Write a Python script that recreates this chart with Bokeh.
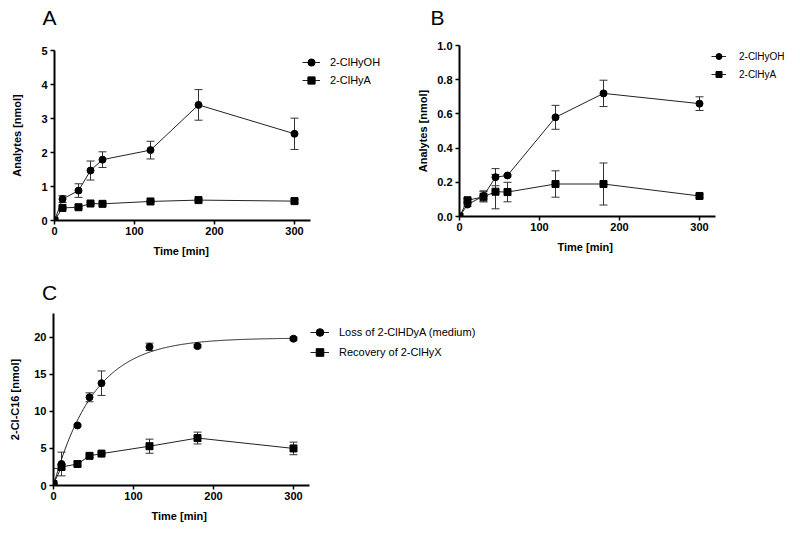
import numpy as np
from bokeh.plotting import figure
from bokeh.models import (ColumnDataSource, Whisker, TeeHead, Legend, LegendItem, Title, Label,
                          FixedTicker, NumeralTickFormatter)
from bokeh.layouts import column, row
from bokeh.embed import file_html
from bokeh.resources import INLINE

FONT = "Liberation Sans"

# ---------------- data ----------------
time_min = [0, 10, 30, 45, 60, 120, 180, 300]

# Panel A
a_hyoh = [0.0, 0.63, 0.88, 1.47, 1.79, 2.07, 3.40, 2.55]
a_hyoh_err = [0.0, 0.10, 0.20, 0.28, 0.23, 0.26, 0.45, 0.46]
a_hya = [0.0, 0.37, 0.39, 0.50, 0.49, 0.56, 0.60, 0.57]
a_hya_err = [0.0, 0.03, 0.03, 0.03, 0.03, 0.03, 0.03, 0.06]

# Panel B
b_hyoh = [0.0, 0.07, 0.12, 0.23, 0.24, 0.58, 0.72, 0.66]
b_hyoh_err = [0.0, 0.01, 0.03, 0.05, 0.005, 0.07, 0.077, 0.04]
b_hya = [0.0, 0.095, 0.115, 0.145, 0.143, 0.19, 0.19, 0.12]
b_hya_err = [0.0, 0.01, 0.03, 0.10, 0.057, 0.077, 0.123, 0.01]

# Panel C
c_loss = [0.3, 2.9, 8.1, 11.9, 13.8, 18.7, 18.8, 19.8]
c_loss_err = [2.0, 1.6, 0.15, 0.6, 1.65, 0.5, 0.2, 0.2]
c_rec = [0.2, 2.5, 2.9, 4.0, 4.3, 5.3, 6.4, 5.0]
c_rec_err = [0.1, 0.3, 0.3, 0.2, 0.15, 0.95, 0.8, 0.85]
# one-phase association fit of the loss curve
c_fit_ymax = 19.9
c_fit_k = 0.0195

labels_ab = ["2-ClHyOH", "2-ClHyA"]
labels_c = ["Loss of 2-ClHDyA (medium)", "Recovery of 2-ClHyX"]
x_ticks = [0, 100, 200, 300]
x_axis_max = 320


def make_fig(fw, fh, x_end, yr, yticks, mbl, mbt, mbb, ylabel, ylab_standoff, xlab_offset):
    p = figure(frame_width=fw, frame_height=fh, x_range=(0, x_end), y_range=yr,
               output_backend="svg", toolbar_location=None,
               min_border_left=mbl, min_border_right=0,
               min_border_top=mbt, min_border_bottom=mbb,
               background_fill_color="white", border_fill_color="white")
    p.frame_align = False
    p.outline_line_color = None
    p.xgrid.visible = False
    p.ygrid.visible = False
    p.xaxis.ticker = FixedTicker(ticks=x_ticks)
    p.xaxis.bounds = (0, x_axis_max)
    p.yaxis.ticker = FixedTicker(ticks=yticks)
    for ax in (p.xaxis[0], p.yaxis[0]):
        ax.axis_line_width = 2
        ax.axis_line_color = "black"
        ax.major_tick_line_width = 1.5
        ax.major_tick_line_color = "black"
        ax.major_tick_in = 0
        ax.major_tick_out = 4
        ax.minor_tick_line_color = None
        ax.major_label_text_font = FONT
        ax.major_label_text_font_style = "bold"
        ax.major_label_text_font_size = "11px"
        ax.major_label_text_color = "black"
        ax.axis_label_text_font = FONT
        ax.axis_label_text_font_style = "bold"
        ax.axis_label_text_font_size = "11px"
        ax.axis_label_text_color = "black"
    p.xaxis.major_label_standoff = 2
    p.yaxis.major_label_standoff = 3
    p.yaxis.axis_label = ylabel
    p.yaxis.axis_label_standoff = ylab_standoff
    p.add_layout(Title(text="Time  [min]", align="left", offset=xlab_offset, standoff=11,
                       text_font=FONT, text_font_size="11px", text_font_style="bold",
                       text_color="black"), "below")
    return p


def add_series(p, x, y, err, marker, draw_line=True):
    src = ColumnDataSource(data=dict(x=x, y=y,
                                     lo=[v - e for v, e in zip(y, err)],
                                     hi=[v + e for v, e in zip(y, err)]))
    w = Whisker(base="x", lower="lo", upper="hi", source=src,
                line_color="#333333", line_width=1,
                upper_head=TeeHead(size=8, line_color="#333333", line_width=1),
                lower_head=TeeHead(size=8, line_color="#333333", line_width=1))
    p.add_layout(w)
    rends = []
    if draw_line:
        rends.append(p.line("x", "y", source=src, line_color="#222222", line_width=1))
    rends.append(p.scatter("x", "y", source=src, marker=marker, size=7,
                           fill_color="black", line_color="black"))
    return rends


def add_legend(p, items, loc, gw, gh, standoff, fsize):
    leg = Legend(items=items, location=loc, orientation="vertical",
                 glyph_width=gw, glyph_height=gh, label_height=gh,
                 label_standoff=standoff, spacing=0, padding=0, margin=0,
                 border_line_color=None, background_fill_alpha=0,
                 label_text_font=FONT, label_text_font_size=fsize,
                 label_text_color="black")
    p.add_layout(leg, "center")


def letter_strip(h, letters):
    s = figure(width=800, height=h, x_range=(0, 800), y_range=(0, h),
               x_axis_location=None, y_axis_location=None,
               output_backend="svg", toolbar_location=None,
               min_border_left=0, min_border_right=0, min_border_top=0, min_border_bottom=0,
               background_fill_color="white", border_fill_color="white")
    s.frame_align = False
    s.outline_line_color = None
    s.xgrid.visible = False
    s.ygrid.visible = False
    for txt, x, y in letters:
        s.add_layout(Label(x=x, y=y, x_units="screen", y_units="screen", text=txt,
                           text_font=FONT, text_font_size="21px", text_color="black",
                           text_align="center", text_baseline="middle"))
    return s


# ---------------- letters (top strip) ----------------
top_strip = letter_strip(40, [("A", 49, 23), ("B", 437, 23)])

# ---------------- Panel A ----------------
pa = make_fig(346, 170, 432.5, (0, 5), [0, 1, 2, 3, 4, 5], 54, 10, 50,
              "Analytes [nmol]", 15, 99)
ra1 = add_series(pa, time_min, a_hyoh, a_hyoh_err, "circle")
ra2 = add_series(pa, time_min, a_hya, a_hya_err, "square")
add_legend(pa, [LegendItem(label=labels_ab[0], renderers=ra1),
                LegendItem(label=labels_ab[1], renderers=ra2)],
           (248, 131), 18, 18, 10, "11px")

# ---------------- Panel B ----------------
pb = make_fig(336, 171, 420, (0, 1.0), [0, 0.2, 0.4, 0.6, 0.8, 1.0], 59, 5, 54,
              "Analytes [nmol]", 5, 98)
pb.yaxis.formatter = NumeralTickFormatter(format="0.0")
rb1 = add_series(pb, time_min, b_hyoh, b_hyoh_err, "circle")
rb2 = add_series(pb, time_min, b_hya, b_hya_err, "square")
add_legend(pb, [LegendItem(label=labels_ab[0], renderers=rb1),
                LegendItem(label=labels_ab[1], renderers=rb2)],
           (252, 133), 15, 18, 13, "10px")

# ---------------- letter C strip ----------------
mid_strip = letter_strip(35, [("C", 49, 13)])

# ---------------- Panel C ----------------
pc = make_fig(737, 172, 921.25, (0, 23.2), [0, 5, 10, 15, 20], 53, 8, 47,
              "2-Cl-C16 [nmol]", 10, 98)
fit_x = np.linspace(0, 300, 301)
fit_y = c_fit_ymax * (1 - np.exp(-c_fit_k * fit_x))
fit_r = pc.line(fit_x, fit_y, line_color="#222222", line_width=1)
rc1 = add_series(pc, time_min, c_loss, c_loss_err, "circle", draw_line=False)
rc2 = add_series(pc, time_min, c_rec, c_rec_err, "square")
add_legend(pc, [LegendItem(label=labels_c[0], renderers=[fit_r] + rc1),
                LegendItem(label=labels_c[1], renderers=rc2)],
           (257, 123), 19, 20, 10, "11px")

layout = column(top_strip, row(pa, pb, spacing=0), mid_strip, pc, spacing=0)
open("out.html", "w").write(file_html(layout, INLINE))
